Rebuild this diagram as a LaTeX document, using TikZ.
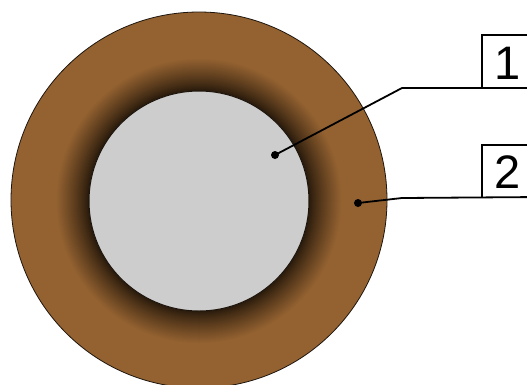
\documentclass[tikz,border=0pt]{standalone}
\usepackage{fontspec}
\setmainfont{Liberation Sans}
\definecolor{brownc}{RGB}{148,98,49}
\definecolor{darkc}{RGB}{36,23,10}
\definecolor{grayc}{RGB}{205,205,205}
\definecolor{edgec}{RGB}{30,22,14}
\tikzset{
  leader/.style={line width=1.8pt, black},
  boxline/.style={line width=1.5pt, black},
  dotn/.style={circle, fill=black, inner sep=0pt, minimum size=8pt},
  numlab/.style={font=\fontsize{47}{47}\selectfont, inner sep=0pt, anchor=base}
}
\begin{document}
\begin{tikzpicture}[x=1pt,y=-1pt]
\useasboundingbox (0,0) rectangle (527,384);
\fill[white] (0,0) rectangle (527,384);
\clip (0,0) rectangle (527,384);
% outer ring
\fill[brownc] (199,200) circle[radius=188];
\foreach \i in {0,...,32}{
  \pgfmathsetmacro{\rr}{143-\i}
  \pgfmathsetmacro{\pp}{100*((\rr-110)/33)^0.85}
  \fill[brownc!\pp!darkc] (199,201) circle[radius=\rr];
}
\draw[edgec, line width=0.8pt] (199,200) circle[radius=188];
% inner core
\filldraw[fill=grayc, draw=edgec, line width=1pt] (199,201) circle[radius=110];
% dots
\node[dotn] (d1) at (275,155) {};
\node[dotn] (d2) at (358,203) {};
\coordinate (k1) at (402,88);
\coordinate (k2) at (402,198);
\coordinate (e1) at (540,88);
\coordinate (e2) at (540,197);
% leaders
\draw[leader] (d1.center) -- (k1) -- (e1);
\draw[leader] (d2.center) -- (k2) -- (e2);
% boxes
\draw[boxline] (540,35) -- (482,35) -- (482,88);
\draw[boxline] (540,145) -- (482,145) -- (482,197);
\node[numlab] (lab1) at (508,79) {1};
\node[numlab] (lab2) at (508,188) {2};
\end{tikzpicture}
\end{document}
